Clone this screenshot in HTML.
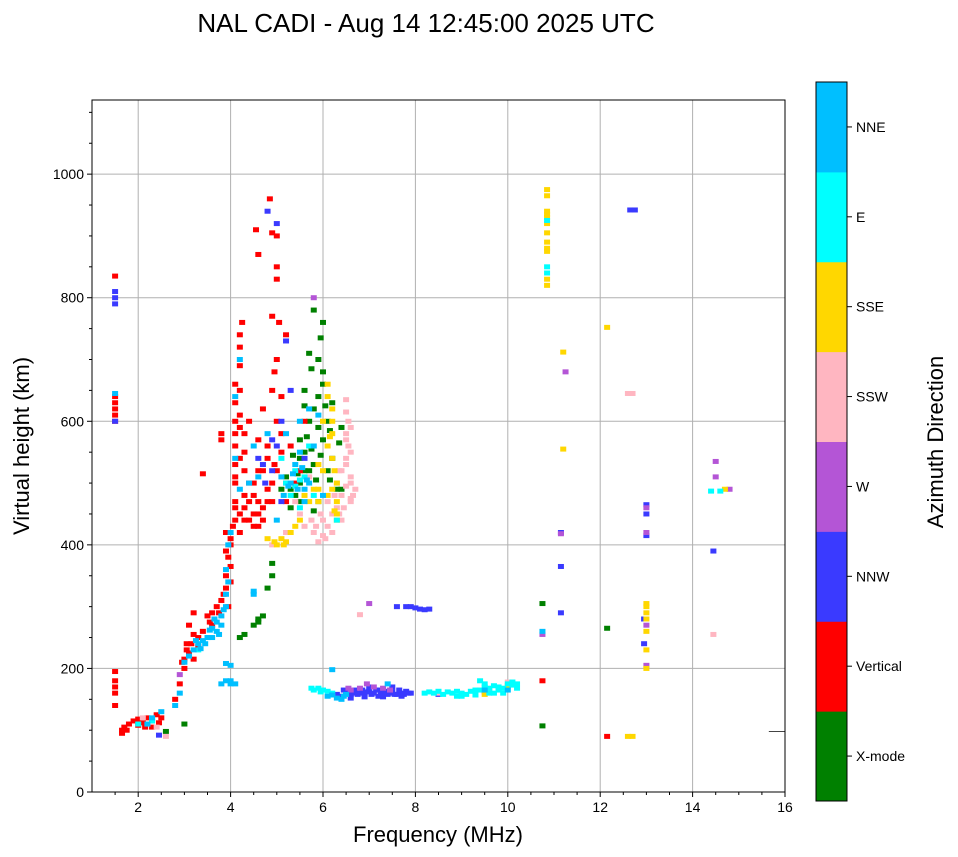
<!DOCTYPE html>
<html><head><meta charset="utf-8">
<style>
body{margin:0;background:#fff;font-family:"Liberation Sans",sans-serif}
svg{display:block}
text{font-family:"Liberation Sans",sans-serif}
</style></head>
<body>
<svg id="chart" width="958" height="857" viewBox="0 0 958 857" xmlns="http://www.w3.org/2000/svg">
<text x="426" y="32" font-size="26" text-anchor="middle">NAL CADI - Aug 14 12:45:00 2025 UTC</text>
<g id="grid"></g>
<g id="marks"></g>
<rect x="92" y="100" width="693" height="692" fill="none" stroke="#000" stroke-width="1"/>
<g id="axes"></g>
<text x="438" y="842" font-size="22" text-anchor="middle">Frequency (MHz)</text>
<text transform="translate(29,446) rotate(-90)" font-size="22" text-anchor="middle">Virtual height (km)</text>
<g id="cbar"></g>
<text transform="translate(943,442) rotate(-90)" font-size="22" text-anchor="middle">Azimuth Direction</text>
</svg>
<script>
const dirNames=["X-mode","Vertical","NNW","W","SSW","SSE","E","NNE"];
const dirColors=["#008000","#ff0000","#3a3aff","#b455d6","#ffb6c1","#ffd700","#00ffff","#00bfff"];
const xTicks=[2,4,6,8,10,12,14,16];
const yTicks=[0,200,400,600,800,1000];
const xmode=[[5.5,570],[5.6,550],[5.7,600],[5.8,620],[5.9,640],[6.0,660],[6.0,680],[5.9,700],[6.0,760],[5.8,780],[5.7,710],[5.9,590],[5.6,520],[5.5,500],[5.4,480],[5.3,460],[5.8,530],[6.0,570],[6.2,540],[6.3,490],[5.9,470],[5.7,520],[5.5,540],[5.2,510],[5.1,490],[6.1,600],[6.2,630],[5.6,650],[4.9,370],[4.9,350],[4.8,330],[4.7,285],[4.6,275],[4.5,270],[4.3,255],[4.2,250],[4.6,280],[3.0,110],[2.6,98],[10.75,305],[10.75,107],[12.15,265],[6.4,590],[6.1,520],[5.35,545],[5.45,515],[5.65,575],[5.75,555],[5.85,505],[5.95,545],[6.05,625],[6.15,585],[5.6,625],[5.75,685],[5.95,735],[5.3,490],[5.5,470],[5.8,455],[6.35,565],[6.4,490],[6.15,505]];
const vertical=[[1.5,835],[1.5,640],[1.5,630],[1.5,620],[1.5,610],[1.5,600],[1.5,195],[1.5,180],[1.5,170],[1.5,160],[1.5,140],[1.65,100],[1.7,105],[1.8,110],[1.9,115],[2.0,118],[2.1,112],[2.2,120],[2.3,115],[2.4,125],[2.5,120],[1.65,95],[2.0,108],[2.3,105],[2.8,150],[2.9,175],[3.0,200],[3.0,215],[3.1,225],[3.05,240],[3.1,270],[3.2,255],[3.3,235],[3.4,260],[3.2,290],[3.5,285],[3.6,270],[3.6,290],[3.7,300],[3.8,310],[3.9,330],[3.9,350],[3.95,380],[4.0,340],[4.0,365],[4.0,400],[3.9,420],[3.95,300],[4.05,430],[4.1,460],[4.1,500],[4.1,530],[4.1,560],[4.1,600],[4.1,630],[4.2,650],[4.2,690],[4.2,720],[4.25,760],[4.2,450],[4.3,480],[4.3,520],[4.4,440],[4.4,470],[4.5,450],[4.5,500],[4.6,430],[4.6,470],[4.7,460],[4.7,520],[4.8,490],[4.9,470],[4.8,540],[4.6,570],[4.4,600],[4.3,580],[3.8,570],[3.8,580],[3.4,515],[5.0,520],[5.2,470],[5.1,550],[5.0,600],[4.9,650],[5.0,700],[4.9,770],[5.0,850],[4.9,905],[4.55,910],[4.6,870],[5.0,900],[5.1,640],[4.7,620],[5.3,560],[5.5,520],[5.4,500],[5.6,600],[5.2,740],[5.0,830],[4.85,960],[10.75,180],[12.15,90],[4.2,420],[4.3,440],[4.5,480],[4.1,580],[4.2,610],[4.1,510],[4.1,470],[4.1,440],[4.2,540],[4.2,590],[4.1,660],[4.2,740],[4.3,460],[4.4,500],[4.5,430],[4.6,450],[4.7,440],[4.8,470],[4.9,500],[4.3,550],[4.6,520],[4.8,560],[4.0,410],[3.9,390],[3.85,320],[3.75,290],[3.55,275],[3.3,250],[3.15,240],[3.05,230],[2.95,210],[3.2,215],[1.75,100],[2.15,105],[2.45,112],[4.95,680],[5.05,760],[5.1,580],[4.95,530],[5.2,500]];
const nnw=[[1.5,810],[1.5,800],[1.5,790],[1.5,600],[2.45,92],[6.3,158],[6.5,160],[6.6,158],[6.7,165],[6.8,160],[6.9,158],[7.0,163],[7.1,160],[7.2,165],[7.3,160],[7.4,158],[7.5,162],[7.6,158],[7.7,160],[7.8,163],[7.9,160],[8.5,158],[9.5,162],[6.4,155],[7.0,170],[7.2,155],[7.5,170],[7.6,300],[7.8,300],[8.0,298],[8.2,295],[8.3,296],[5.2,730],[4.9,570],[4.6,540],[5.0,560],[5.3,650],[4.7,530],[5.1,600],[5.6,540],[4.8,940],[5.0,920],[11.15,365],[11.15,290],[11.15,420],[12.65,942],[12.75,942],[14.45,390],[13.0,465],[13.0,450],[13.0,415],[12.95,240],[12.95,280],[6.45,165],[6.55,163],[6.65,160],[6.75,158],[6.85,165],[6.95,162],[7.05,158],[7.15,165],[7.25,160],[7.35,163],[7.45,160],[7.55,158],[7.65,165],[7.75,158],[7.85,160],[6.6,152],[6.9,154],[7.3,154],[7.7,155],[7.9,300],[8.1,296],[4.75,500],[4.9,520],[5.1,470]];
const west=[[5.8,800],[13.0,460],[13.0,420],[13.0,205],[13.0,270],[14.5,510],[14.5,535],[14.8,490],[11.25,680],[7.0,305],[10.75,255],[11.15,418],[6.8,168],[7.3,168],[6.6,165],[2.9,190],[7.1,170],[6.95,175],[7.45,165],[6.55,168]];
const ssw=[[6.5,635],[6.5,615],[6.6,590],[6.5,570],[6.6,550],[6.5,530],[6.6,510],[6.7,490],[6.6,470],[6.4,480],[6.3,460],[6.2,450],[6.1,430],[6.0,415],[5.9,405],[6.4,520],[6.3,500],[6.0,440],[5.8,420],[5.6,430],[5.5,450],[5.4,470],[4.9,400],[5.2,420],[5.7,510],[6.1,470],[6.4,440],[6.8,287],[8.5,160],[9.6,165],[10.0,170],[10.0,178],[12.6,645],[12.7,645],[14.45,255],[2.2,110],[2.4,105],[2.1,120],[2.6,90],[6.55,600],[6.5,580],[6.55,560],[6.5,540],[6.6,500],[6.65,480],[6.45,460],[6.35,450],[6.2,420],[6.05,410],[5.85,430],[5.75,440],[5.95,450],[6.25,480],[6.35,520],[6.5,495],[6.6,475]];
const sse=[[6.1,660],[6.1,640],[6.2,600],[6.2,580],[6.1,560],[6.2,540],[6.0,520],[6.3,500],[6.1,480],[5.9,470],[6.3,470],[6.3,450],[5.9,490],[5.6,480],[5.5,440],[5.3,420],[5.2,405],[5.0,400],[4.8,410],[5.1,410],[5.9,530],[6.0,600],[10.85,975],[10.85,965],[10.85,940],[10.85,930],[10.85,920],[10.85,905],[10.85,890],[10.85,880],[10.85,830],[10.85,820],[12.15,752],[11.2,712],[11.2,555],[12.6,90],[12.7,90],[13.0,300],[13.0,280],[13.0,260],[13.0,230],[13.0,200],[14.7,490],[9.5,158],[10.0,172],[2.3,118],[6.2,620],[6.15,575],[6.25,520],[6.2,490],[6.3,440],[6.25,455],[5.4,430],[5.15,400],[4.95,405],[5.7,470],[5.8,490],[13.0,305],[13.0,290],[10.85,935],[10.85,875]];
const east=[[5.8,165],[5.9,168],[6.0,165],[6.1,163],[6.2,160],[8.2,160],[8.3,162],[8.6,158],[8.8,160],[9.0,160],[9.2,163],[9.4,165],[9.5,170],[9.6,168],[9.8,170],[10.0,175],[10.1,173],[10.2,168],[8.9,155],[9.3,157],[9.7,160],[9.4,180],[9.8,165],[5.2,500],[5.4,520],[5.6,510],[5.5,460],[5.3,480],[5.8,480],[6.3,440],[5.7,560],[5.1,540],[10.85,840],[10.85,850],[10.85,925],[14.4,487],[14.6,487],[3.5,250],[3.3,230],[2.3,115],[2.0,110],[8.4,160],[8.5,163],[8.7,162],[8.9,163],[9.1,158],[9.3,165],[9.5,175],[9.7,172],[9.9,168],[10.1,178],[10.2,175],[9.6,160],[9.0,155],[9.9,160],[5.95,162],[5.75,168],[5.4,495],[5.5,505]];
const nne=[[3.0,210],[3.1,220],[3.2,230],[3.3,240],[3.4,245],[3.5,250],[3.6,265],[3.7,275],[3.8,285],[3.85,295],[3.9,320],[3.9,360],[3.95,400],[4.0,420],[3.9,208],[4.0,205],[3.9,180],[4.0,175],[4.1,175],[3.8,175],[3.45,240],[3.6,250],[2.5,130],[2.3,120],[2.2,110],[2.8,140],[2.9,160],[4.1,640],[4.2,700],[4.1,540],[4.2,490],[4.4,500],[4.5,560],[4.6,510],[5.2,580],[5.5,600],[5.0,440],[5.3,500],[5.4,530],[5.6,490],[5.7,500],[5.8,560],[5.9,610],[5.7,620],[6.0,480],[5.5,550],[4.8,580],[5.1,510],[6.2,198],[6.1,155],[6.3,152],[6.5,158],[7.4,175],[9.5,165],[10.0,165],[10.75,260],[4.5,320],[4.5,325],[1.5,645],[3.7,260],[3.8,270],[3.75,255],[3.65,280],[3.55,262],[3.35,232],[3.25,245],[3.9,300],[3.95,340],[4.0,180],[6.2,157],[6.4,150],[5.35,515],[5.45,490],[5.55,525],[5.65,505],[5.25,495],[5.15,480],[5.6,470],[6.45,155]];
const series=[xmode,vertical,nnw,west,ssw,sse,east,nne];
const X0=92,X1=785,Y0=792,Y1=100,FMIN=1,FMAX=16,HMIN=0,HMAX=1120;
function xs(f){return X0+(f-FMIN)/(FMAX-FMIN)*(X1-X0);}
function ys(h){return Y0-(h-HMIN)/(HMAX-HMIN)*(Y0-Y1);}
const NS="http://www.w3.org/2000/svg";
function mk(tag,attrs,parent){const e=document.createElementNS(NS,tag);for(const k in attrs)e.setAttribute(k,attrs[k]);parent.appendChild(e);return e;}
const grid=document.getElementById('grid'),axes=document.getElementById('axes'),marks=document.getElementById('marks'),cbar=document.getElementById('cbar');
xTicks.forEach(t=>{const x=xs(t);
 if(t<FMAX){const g=mk('line',{x1:x,x2:x,y1:Y1,y2:Y0,stroke:'#b0b0b0','stroke-width':1},grid);
 
 }
 mk('line',{x1:x,x2:x,y1:Y0,y2:Y0+5,stroke:'#000'},axes);
 const l=mk('text',{x:x,y:Y0+20,'font-size':14,'text-anchor':'middle'},axes);l.textContent=t;
 
 });
yTicks.forEach(t=>{const y=ys(t);
 if(t>0){const g=mk('line',{x1:X0,x2:X1,y1:y,y2:y,stroke:'#b0b0b0','stroke-width':1},grid);
 
 }
 mk('line',{x1:X0-5,x2:X0,y1:y,y2:y,stroke:'#000'},axes);
 const l=mk('text',{x:X0-8,y:y+5,'font-size':14,'text-anchor':'end'},axes);l.textContent=t;
 
 });
for(let h=50;h<HMAX;h+=50){if(h%200)mk('line',{x1:X0-3,x2:X0,y1:ys(h),y2:ys(h),stroke:'#000'},axes);}
for(let f=1.5;f<FMAX;f+=0.5){if(f%2)mk('line',{x1:xs(f),x2:xs(f),y1:Y0,y2:Y0+3,stroke:'#000'},axes);}
series.forEach((pts,d)=>{pts.forEach(p=>{
 const r=mk('rect',{x:xs(p[0])-3,y:ys(p[1])-2.5,width:6,height:5,fill:dirColors[d]},marks);
 
 });});
const ln=mk('line',{x1:xs(15.65),x2:X1,y1:ys(98),y2:ys(98),stroke:'#444','stroke-width':1},marks);


const CX=816,CW=31,CT=82,CB=801,ch=(CB-CT)/8;
dirNames.forEach((n,i)=>{const y=CB-(i+1)*ch;
 const r=mk('rect',{x:CX,y:y,width:CW,height:ch+0.5,fill:dirColors[i]},cbar);
 
 
 mk('line',{x1:CX+CW,x2:CX+CW+5,y1:y+ch/2,y2:y+ch/2,stroke:'#000'},cbar);
 const l=mk('text',{x:CX+CW+9,y:y+ch/2+5,'font-size':14},cbar);l.textContent=n;
 
 });
mk('rect',{x:CX,y:CT,width:CW,height:CB-CT,fill:'none',stroke:'#000'},cbar);
</script>
</body></html>
